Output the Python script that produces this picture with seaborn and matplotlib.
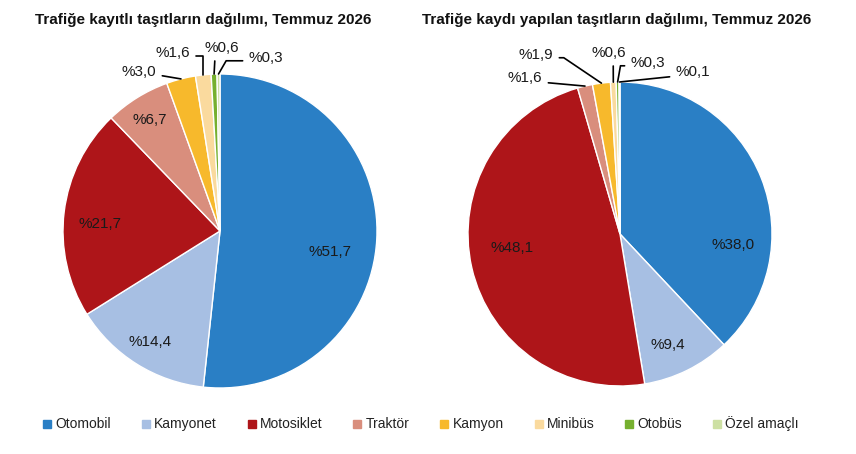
import numpy as np
import matplotlib
matplotlib.use("Agg")
import matplotlib.pyplot as plt
import seaborn as sns
from matplotlib.lines import Line2D

# data
categories = ["Otomobil", "Kamyonet", "Motosiklet", "Traktör", "Kamyon",
              "Minibüs", "Otobüs", "Özel amaçlı"]
registered = [51.7, 14.4, 21.7, 6.7, 3.0, 1.6, 0.6, 0.3]
newly_registered = [38.0, 9.4, 48.1, 1.6, 1.9, 0.6, 0.3, 0.1]
title_left = "Trafiğe kayıtlı taşıtların dağılımı, Temmuz 2026"
title_right = "Trafiğe kaydı yapılan taşıtların dağılımı, Temmuz 2026"

colors = ["#2A7FC5", "#A7BFE3", "#AE1519", "#D98E7D", "#F7B92C",
          "#FADA9E", "#76B02F", "#CDE0A3"]

sns.set_theme(style="white")
plt.rcParams["font.family"] = ["Liberation Sans", "DejaVu Sans"]

# label placement (axes data units, radius = 1)
left_inside = {0: (0.701, -0.134), 1: (-0.446, -0.707), 2: (-0.764, 0.045), 3: (-0.446, 0.707)}
left_outside = {
    4: ((-0.516, 1.013), (1, 0.3), "arc3"),
    5: ((-0.299, 1.134), (1, 0.25), "angle,angleA=0,angleB=90,rad=0"),
    6: ((0.013, 1.166), (0.3, 0), "arc3"),
    7: ((0.293, 1.102), (0, 0.3), "angle,angleA=0,angleB=60,rad=0"),
}
right_inside = {0: (0.743, -0.072), 1: (0.316, -0.730), 2: (-0.711, -0.092)}
right_outside = {
    3: ((-0.625, 1.026), (1, 0.2), "arc3"),
    4: ((-0.553, 1.178), (1, 0.3), "angle,angleA=0,angleB=-34,rad=0"),
    5: ((-0.072, 1.191), (0.62, 0), "arc3"),
    6: ((0.184, 1.125), (0, 0.3), "angle,angleA=0,angleB=80,rad=0"),
    7: ((0.480, 1.066), (0, 0.2), "arc3"),
}


def fmt(v):
    return "%" + f"{v:.1f}".replace(".", ",")


def draw_pie(ax, values, inside, outside):
    ax.pie(values, colors=colors, startangle=90, counterclock=False, radius=1,
           wedgeprops=dict(edgecolor="white", linewidth=1))
    ax.set_xlim(-1, 1)
    ax.set_ylim(-1, 1)
    cum = np.cumsum([0] + values[:-1])
    for i, v in enumerate(values):
        if i in inside:
            ax.text(*inside[i], fmt(v), ha="center", va="center",
                    fontsize=11, color="#1a1a1a")
        elif i in outside:
            pos, rel, conn = outside[i]
            ang = np.deg2rad(90 - 360 * (cum[i] + v / 2) / 100)
            xy = (np.cos(ang), np.sin(ang))
            ax.annotate(fmt(v), xy=xy, xytext=pos, ha="center", va="center",
                        fontsize=11, color="#1a1a1a", annotation_clip=False,
                        arrowprops=dict(arrowstyle="-", color="black", lw=1.2,
                                        shrinkA=2, shrinkB=0, relpos=rel,
                                        connectionstyle=conn))


fig = plt.figure(figsize=(8.56, 4.54), dpi=100)
W, H = 856, 454

ax1 = fig.add_axes([63 / W, (H - 231 - 157) / H, 314 / W, 314 / H])
draw_pie(ax1, registered, left_inside, left_outside)

ax2 = fig.add_axes([468 / W, (H - 234 - 152) / H, 304 / W, 304 / H])
draw_pie(ax2, newly_registered, right_inside, right_outside)

fig.text(203 / W, 1 - 20 / H, title_left, ha="center", va="center",
         fontsize=11, fontweight="bold", color="#111111")
fig.text(617 / W, 1 - 20 / H, title_right, ha="center", va="center",
         fontsize=11, fontweight="bold", color="#111111")

handles = [Line2D([], [], marker="s", linestyle="", markersize=6,
                  markerfacecolor=c, markeredgecolor=c) for c in colors]
fig.legend(handles, categories, loc="center", bbox_to_anchor=(421 / W, 1 - 424 / H),
           ncol=8, frameon=False, fontsize=10, handlelength=0.6, handletextpad=0.3,
           columnspacing=2.2, labelcolor="#222222")

fig.savefig("out.png", dpi=100)
